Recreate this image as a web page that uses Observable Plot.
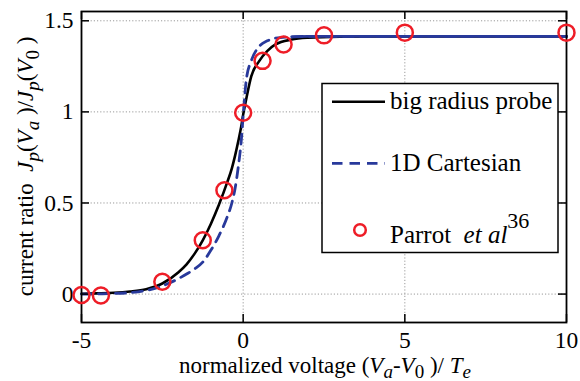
<!DOCTYPE html>
<html><head><meta charset="utf-8">
<script src="https://cdn.jsdelivr.net/npm/d3@7"></script>
<script src="https://cdn.jsdelivr.net/npm/@observablehq/plot@0.6"></script>
<style>body{margin:0;background:#fff} #chart{width:580px;height:381px}</style>
</head><body><div id="chart"></div>
<script>
// ---- data ----
const curveX      = [-5, -4.5, -4, -3.5, -3, -2.5, -2, -1.75, -1.5, -1.25, -1, -0.75, -0.5, -0.35, -0.25, -0.15, -0.05, 0, 0.1, 0.25, 0.5, 0.75, 1, 1.5, 2, 3, 4, 6, 8, 10];
const bigRadiusY  = [0.002, 0.004, 0.007, 0.014, 0.027, 0.058, 0.12, 0.163, 0.222, 0.295, 0.385, 0.49, 0.61, 0.69, 0.76, 0.84, 0.93, 0.985, 1.075, 1.195, 1.28, 1.335, 1.37, 1.397, 1.407, 1.413, 1.414, 1.414, 1.414, 1.414];
const cartesianY  = [0, 0.001, 0.003, 0.008, 0.02, 0.045, 0.085, 0.11, 0.138, 0.175, 0.24, 0.32, 0.42, 0.5, 0.58, 0.7, 0.86, 0.98, 1.18, 1.28, 1.36, 1.39, 1.405, 1.412, 1.414, 1.414, 1.414, 1.414, 1.414, 1.414];
const parrotX     = [-5, -4.4, -2.5, -1.25, -0.58, 0, 0.6, 1.25, 2.5, 5, 10];
const parrotY     = [-0.005, -0.008, 0.068, 0.295, 0.57, 0.995, 1.28, 1.37, 1.42, 1.435, 1.435];
const xTicks = [-5, 0, 5, 10];
const yTicks = [0, 0.5, 1, 1.5];
const xDomain = [-5, 10];
const yDomain = [-0.156, 1.551];
const seriesNames = ["big radius probe", "1D Cartesian", "Parrot"];

const big = curveX.map((x, i) => ({x, y: bigRadiusY[i]}));
const cart = curveX.map((x, i) => ({x, y: cartesianY[i]}));
const parrot = parrotX.map((x, i) => ({x, y: parrotY[i]}));

const serif = "'Liberation Serif','Times New Roman',serif";
const BLUE = "#28399b", RED = "#ee1d27";
const gridStyle = {stroke: "#9a9a9a", strokeOpacity: 1, strokeDasharray: "1.2,2", strokeWidth: 1};

const plot = Plot.plot({
  width: 580, height: 381,
  marginLeft: 81, marginRight: 14, marginTop: 11, marginBottom: 59,
  style: {fontFamily: serif, fontSize: "23.5px", background: "white", color: "black"},
  x: {domain: xDomain},
  y: {domain: yDomain},
  marks: [
    Plot.gridX(xTicks, gridStyle),
    Plot.gridY(yTicks, gridStyle),
    Plot.line(big, {x: "x", y: "y", stroke: "black", strokeWidth: 2.6, curve: "monotone-x"}),
    Plot.line(cart, {x: "x", y: "y", stroke: BLUE, strokeWidth: 2.8, strokeDasharray: "10,7", curve: "monotone-x"}),
    Plot.line(cart.filter(d => d.x >= 1.5), {x: "x", y: "y", stroke: BLUE, strokeWidth: 2.8, curve: "monotone-x"}),
    Plot.ruleX(xTicks, {y1: yDomain[0], y2: yDomain[0], insetBottom: 8, stroke: "black", strokeWidth: 1.5}),
    Plot.ruleX(xTicks, {y1: yDomain[1], y2: yDomain[1], insetTop: 8, stroke: "black", strokeWidth: 1.5}),
    Plot.ruleY(yTicks, {x1: xDomain[0], x2: xDomain[0], insetRight: -8, stroke: "black", strokeWidth: 1.5}),
    Plot.ruleY(yTicks, {x1: xDomain[1], x2: xDomain[1], insetLeft: -8, stroke: "black", strokeWidth: 1.5}),
    Plot.frame({stroke: "black", strokeWidth: 1.8}),
    Plot.axisX({ticks: xTicks, tickSize: 0, tickPadding: 9, tickFormat: d => String(d), label: null, fontSize: 23.5, fontFamily: serif}),
    Plot.axisY({ticks: yTicks, tickSize: 0, tickPadding: 8, tickFormat: d => String(d), label: null, fontSize: 23.5, fontFamily: serif}),
    Plot.dot(parrot, {x: "x", y: "y", r: 8, stroke: RED, strokeWidth: 2.5, fill: "none"})
  ]
});
document.getElementById("chart").appendChild(plot);

// ---- axis titles with math formatting ----
const svg = d3.select(plot);
function rich(text, parts) {
  parts.forEach(p => {
    const t = text.append("tspan").text(p.t);
    if (p.i) t.attr("font-style", "italic");
    if (p.dy) t.attr("dy", p.dy);
    if (p.fs) t.attr("font-size", p.fs);
  });
}
const xl = svg.append("text").attr("x", 325).attr("y", 373).attr("text-anchor", "middle")
  .attr("font-family", serif).attr("font-size", 23).attr("fill", "black");
rich(xl, [
  {t: "normalized voltage ("}, {t: "V", i: 1}, {t: "a", i: 1, dy: 5, fs: 19}, {t: "-", dy: -5},
  {t: "V", i: 1}, {t: "0", dy: 5, fs: 19}, {t: " )/ ", dy: -5}, {t: "T", i: 1}, {t: "e", i: 1, dy: 5, fs: 19}
]);
const yl = svg.append("text").attr("transform", "translate(33,166.5) rotate(-90)").attr("text-anchor", "middle")
  .attr("font-family", serif).attr("font-size", 23).attr("fill", "black");
rich(yl, [
  {t: "current ratio  "}, {t: "J", i: 1}, {t: "p", i: 1, dy: 6, fs: 19}, {t: "(", dy: -6},
  {t: "V", i: 1}, {t: "a", i: 1, dy: 6, fs: 19}, {t: " )/", dy: -6},
  {t: "J", i: 1}, {t: "p", i: 1, dy: 6, fs: 19}, {t: "(", dy: -6},
  {t: "V", i: 1}, {t: "0", dy: 6, fs: 19}, {t: " )", dy: -6}
]);

// ---- legend ----
const lg = svg.append("g").attr("font-family", serif).attr("font-size", 25).attr("fill", "black")
  .attr("text-anchor", "start");
lg.append("rect").attr("x", 322).attr("y", 83.5).attr("width", 236).attr("height", 169)
  .attr("fill", "white").attr("stroke", "black").attr("stroke-width", 1.5);
lg.append("line").attr("x1", 332).attr("x2", 385).attr("y1", 101.7).attr("y2", 101.7)
  .attr("stroke", "black").attr("stroke-width", 2.6);
lg.append("text").attr("x", 390).attr("y", 108.5).text(seriesNames[0]);
lg.append("line").attr("x1", 332).attr("x2", 385).attr("y1", 163.3).attr("y2", 163.3)
  .attr("stroke", BLUE).attr("stroke-width", 2.8).attr("stroke-dasharray", "10.5,7");
lg.append("text").attr("x", 390).attr("y", 170.5).text(seriesNames[1]);
lg.append("circle").attr("cx", 360).attr("cy", 230).attr("r", 5.8)
  .attr("fill", "none").attr("stroke", RED).attr("stroke-width", 2.5);
const pt = lg.append("text").attr("x", 390).attr("y", 243);
rich(pt, [{t: seriesNames[2] + "  "}, {t: "et al", i: 1}, {t: "36", dy: -15, fs: 22}]);
</script>
</body></html>
